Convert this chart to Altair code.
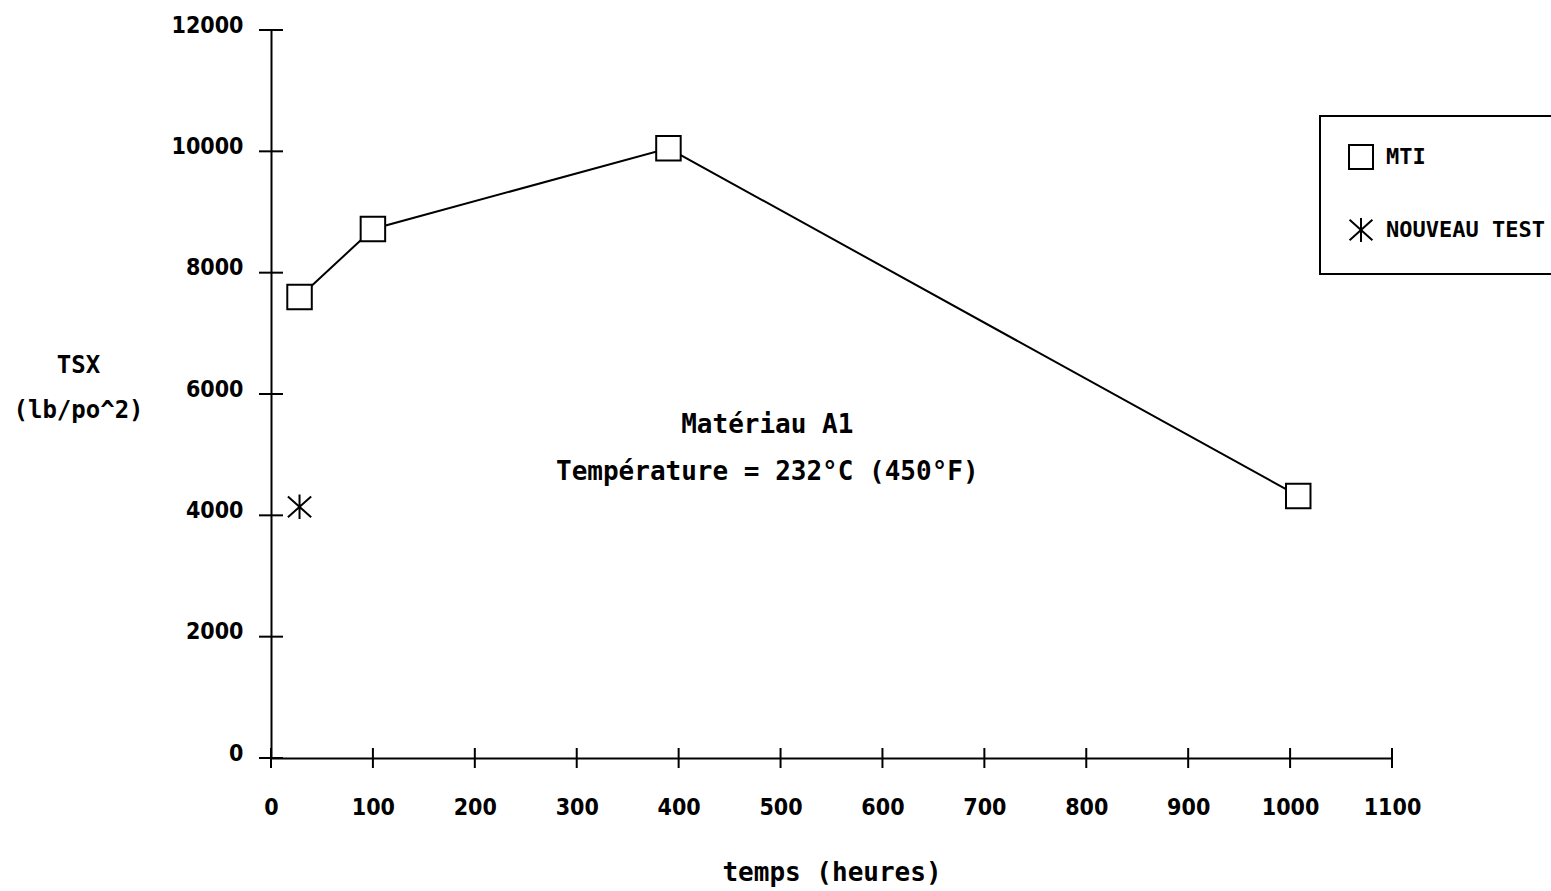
import altair as alt
import pandas as pd

# Measured tensile strength (TSX) against ageing time
HOURS_MTI = [28, 100, 390, 1008]
TSX_MTI = [7600, 8720, 10050, 4320]
HOURS_NEW = [28]
TSX_NEW = [4140]
SERIES = ["MTI", "NOUVEAU TEST"]

X_TICKS = list(range(0, 1101, 100))
Y_TICKS = list(range(0, 12001, 2000))

NOTE_LINES = ["Matériau A1", "Température = 232°C (450°F)"]
NOTE_X = [487, 487]
NOTE_Y = [5490, 4710]

# six-armed asterisk used for the new test point
ASTERISK = "M0,-1L0,1M-0.95,-0.85L0.95,0.85M-0.95,0.85L0.95,-0.85"

LABEL_FONT = "DejaVu Sans Condensed"
MONO = "DejaVu Sans Mono"

points = pd.DataFrame({
    "heures": HOURS_MTI + HOURS_NEW,
    "tsx": TSX_MTI + TSX_NEW,
    "serie": [SERIES[0]] * len(HOURS_MTI) + [SERIES[1]] * len(HOURS_NEW),
})
x_ticks = pd.DataFrame({"heures": X_TICKS, "tsx": [0] * len(X_TICKS)})
y_ticks = pd.DataFrame({"heures": [0] * len(Y_TICKS), "tsx": Y_TICKS})
notes = pd.DataFrame({"heures": NOTE_X, "tsx": NOTE_Y, "texte": NOTE_LINES})

x_scale = alt.Scale(domain=[0, 1100], nice=False, zero=False)
y_scale = alt.Scale(domain=[0, 12000], nice=False)

x_axis = alt.Axis(
    values=X_TICKS, format="d", ticks=False, grid=False, labelFlush=False,
    domainColor="black", domainWidth=2,
    labelFont=LABEL_FONT, labelFontSize=23, labelFontWeight="bold",
    labelColor="black", labelPadding=38,
    title="temps (heures)", titleFont=MONO, titleFontSize=26,
    titleFontWeight="bold", titleColor="black", titlePadding=40,
)
y_axis = alt.Axis(
    values=Y_TICKS, format="d", ticks=False, grid=False, labelFlush=False,
    domainColor="black", domainWidth=2,
    labelFont=LABEL_FONT, labelFontSize=23, labelFontWeight="bold",
    labelColor="black", labelPadding=28, labelOffset=-5,
    title=["TSX", "(lb/po^2)"], titleFont=MONO, titleFontSize=24,
    titleFontWeight="bold", titleColor="black",
    titleAngle=0, titleAlign="center", titleBaseline="middle",
    titleX=-193, titleY=335, titleLineHeight=45,
)

X = alt.X("heures:Q", scale=x_scale, axis=x_axis)
Y = alt.Y("tsx:Q", scale=y_scale, axis=y_axis)

x_tick_marks = alt.Chart(x_ticks).mark_rule(
    color="black", strokeWidth=2, yOffset=-10, y2Offset=10
).encode(x=X, y=Y, y2="tsx:Q")

y_tick_marks = alt.Chart(y_ticks).mark_rule(
    color="black", strokeWidth=2, xOffset=-12, x2Offset=12
).encode(y=Y, x=X, x2="heures:Q")

mti_line = alt.Chart(points).transform_filter(
    alt.datum.serie == SERIES[0]
).mark_line(color="black", strokeWidth=2).encode(x=X, y=Y)

markers = alt.Chart(points).mark_point(
    size=600, stroke="black", fill="white", strokeWidth=2, opacity=1
).encode(
    x=X, y=Y,
    shape=alt.Shape(
        "serie:N",
        scale=alt.Scale(domain=SERIES, range=["square", ASTERISK]),
        legend=alt.Legend(
            title=None, orient="none", legendX=1049, legendY=86,
            padding=28, strokeColor="black", fillColor="white",
            labelFont=MONO, labelFontSize=22, labelFontWeight="bold",
            labelColor="black", labelOffset=12, rowPadding=41,
        ),
    ),
)

note_text = alt.Chart(notes).mark_text(
    font=MONO, fontSize=26, fontWeight="bold", color="black",
    align="center", baseline="middle"
).encode(x=X, y=Y, text="texte:N")

chart = alt.layer(
    x_tick_marks, y_tick_marks, mti_line, markers, note_text
).properties(
    width=1121, height=728,
    autosize=alt.AutoSizeParams(type="none"),
    padding={"left": 271, "top": 30, "right": 159, "bottom": 133},
    background="white",
).configure_view(stroke=None).configure_legend(
    strokeWidth=2, symbolSize=576, symbolStrokeWidth=2
)

chart.save("out.html", embed_options={"renderer": "svg", "actions": False})
